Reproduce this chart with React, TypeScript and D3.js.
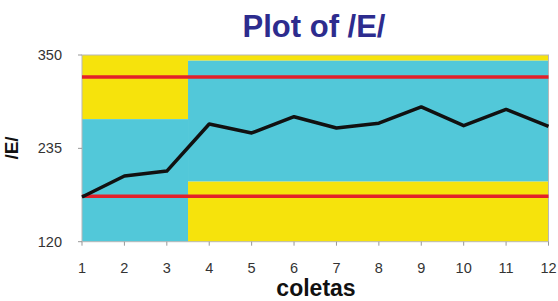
import React from "react";
import * as d3 from "d3";

const coletas = [1, 2, 3, 4, 5, 6, 7, 8, 9, 10, 11, 12];
const valores = [175, 201, 207, 265, 254, 274, 260, 266, 286, 263, 283, 262];
const yTicks = [120, 235, 350];
const limiteSuperior = 323;
const limiteInferior = 176;
const zonaX = [1, 3.5, 12];
const zonasEsquerda = [
  { y0: 271, y1: 350, tipo: "amarelo" },
  { y0: 120, y1: 271, tipo: "ciano" },
];
const zonasDireita = [
  { y0: 343, y1: 350, tipo: "amarelo" },
  { y0: 194, y1: 343, tipo: "ciano" },
  { y0: 120, y1: 194, tipo: "amarelo" },
];

const W = 558;
const H = 301;
const left = 82;
const right = 548.5;
const top = 55;
const bottom = 241.7;

const cores: Record<string, string> = { amarelo: "#f6e30c", ciano: "#52c8d9" };

export default function App() {
  const x = d3.scaleLinear().domain([1, 12]).range([left, right]);
  const y = d3.scaleLinear().domain([120, 350]).range([bottom, top]);
  const line = d3
    .line<number>()
    .x((_, i) => x(coletas[i]))
    .y((d) => y(d));

  const zonas = [
    ...zonasEsquerda.map((z) => ({ ...z, x0: zonaX[0], x1: zonaX[1] })),
    ...zonasDireita.map((z) => ({ ...z, x0: zonaX[1], x1: zonaX[2] })),
  ];

  return (
    <svg
      width={W}
      height={H}
      style={{ position: "absolute", left: 0, top: 0, background: "#fff" }}
      fontFamily="Liberation Sans, Arial, sans-serif"
    >
      <rect x={0} y={0} width={W} height={H} fill="#fff" />
      <text x={314} y={37} textAnchor="middle" fontSize={31} fontWeight="bold" fill="#2d2c8e">
        Plot of /E/
      </text>
      {zonas.map((z, i) => (
        <rect
          key={i}
          x={x(z.x0)}
          y={y(z.y1)}
          width={x(z.x1) - x(z.x0)}
          height={y(z.y0) - y(z.y1)}
          fill={cores[z.tipo]}
        />
      ))}
      <rect x={left} y={top} width={right - left} height={bottom - top} fill="none" stroke="#b8b8b8" strokeWidth={1} />
      {[limiteSuperior, limiteInferior].map((v, i) => (
        <line key={i} x1={left} x2={right} y1={y(v)} y2={y(v)} stroke="#e3202a" strokeWidth={3.5} />
      ))}
      <path d={line(valores) || ""} fill="none" stroke="#111" strokeWidth={3.5} strokeLinejoin="round" />
      {yTicks.map((t) => (
        <g key={t}>
          <line x1={left - 4} x2={left} y1={y(t)} y2={y(t)} stroke="#999" />
          <text x={left - 20} y={y(t)} dy="0.35em" textAnchor="end" fontSize={14.5} fill="#333">
            {t}
          </text>
        </g>
      ))}
      {coletas.map((c) => (
        <g key={c}>
          <line x1={x(c)} x2={x(c)} y1={bottom} y2={bottom + 4} stroke="#999" />
          <text x={x(c)} y={268} dy="0.35em" textAnchor="middle" fontSize={14.5} fill="#333">
            {c}
          </text>
        </g>
      ))}
      <text x={316} y={296} textAnchor="middle" fontSize={23} fontWeight="bold" fill="#111">
        coletas
      </text>
      <text
        transform={`translate(18,148) rotate(-90)`}
        textAnchor="middle"
        fontSize={19}
        fontWeight="bold"
        fill="#111"
      >
        /E/
      </text>
    </svg>
  );
}
